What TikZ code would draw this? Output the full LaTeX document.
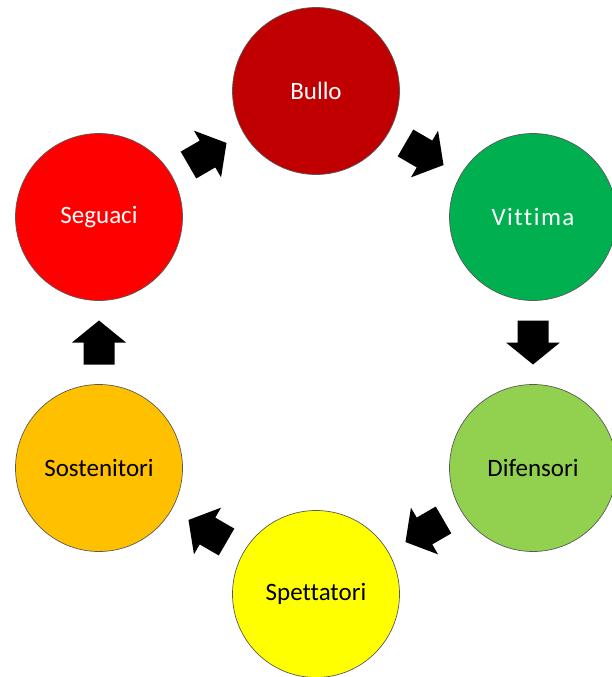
\documentclass[tikz,border=0pt]{standalone}
\usepackage{fontspec}
\setmainfont[Ligatures=NoCommon]{Carlito}
\definecolor{cbullo}{HTML}{C00000}
\definecolor{cvittima}{HTML}{00B050}
\definecolor{cdifensori}{HTML}{92D050}
\definecolor{cspettatori}{HTML}{FFFF00}
\definecolor{csostenitori}{HTML}{FFC000}
\definecolor{cseguaci}{HTML}{FF0000}
\begin{document}
\begin{tikzpicture}[x=1pt,y=-1pt,
  role/.style={circle, minimum size=167pt, inner sep=0pt, draw=black!65, line width=0.7pt,
               font=\fontsize{25}{30}\selectfont},
  blockarrow/.pic={\fill[black] (-22,-15.5) -- (0,-15.5) -- (0,-27) -- (22,0) -- (0,27) -- (0,15.5) -- (-22,15.5) -- cycle;},
  flow/.style={pos=0.5, sloped, allow upside down}
]
\useasboundingbox (0,0) rectangle (612,677);
\clip (0,0) rectangle (612,677);
\node[role, fill=cbullo, text=white] (bul) at (316,91) {Bullo};
\node[role, fill=cvittima, text=white] (vit) at (533,217) {\addfontfeature{LetterSpace=6}Vittima};
\node[role, fill=cdifensori, text=black] (dif) at (533,468) {Difensori};
\node[role, fill=cspettatori, text=black] (spe) at (316,594) {Spettatori};
\node[role, fill=csostenitori, text=black] (sos) at (99,468) {Sostenitori};
\node[role, fill=cseguaci, text=white] (seg) at (99,217) {Seguaci};
\path (seg.center) -- (bul.center) pic[flow] {blockarrow};
\path (bul.center) -- (vit.center) pic[flow] {blockarrow};
\path (vit.center) -- (dif.center) pic[flow] {blockarrow};
\path (dif.center) -- (spe.center) pic[flow] {blockarrow};
\path (spe.center) -- (sos.center) pic[flow] {blockarrow};
\path (sos.center) -- (seg.center) pic[flow] {blockarrow};
\end{tikzpicture}
\end{document}
